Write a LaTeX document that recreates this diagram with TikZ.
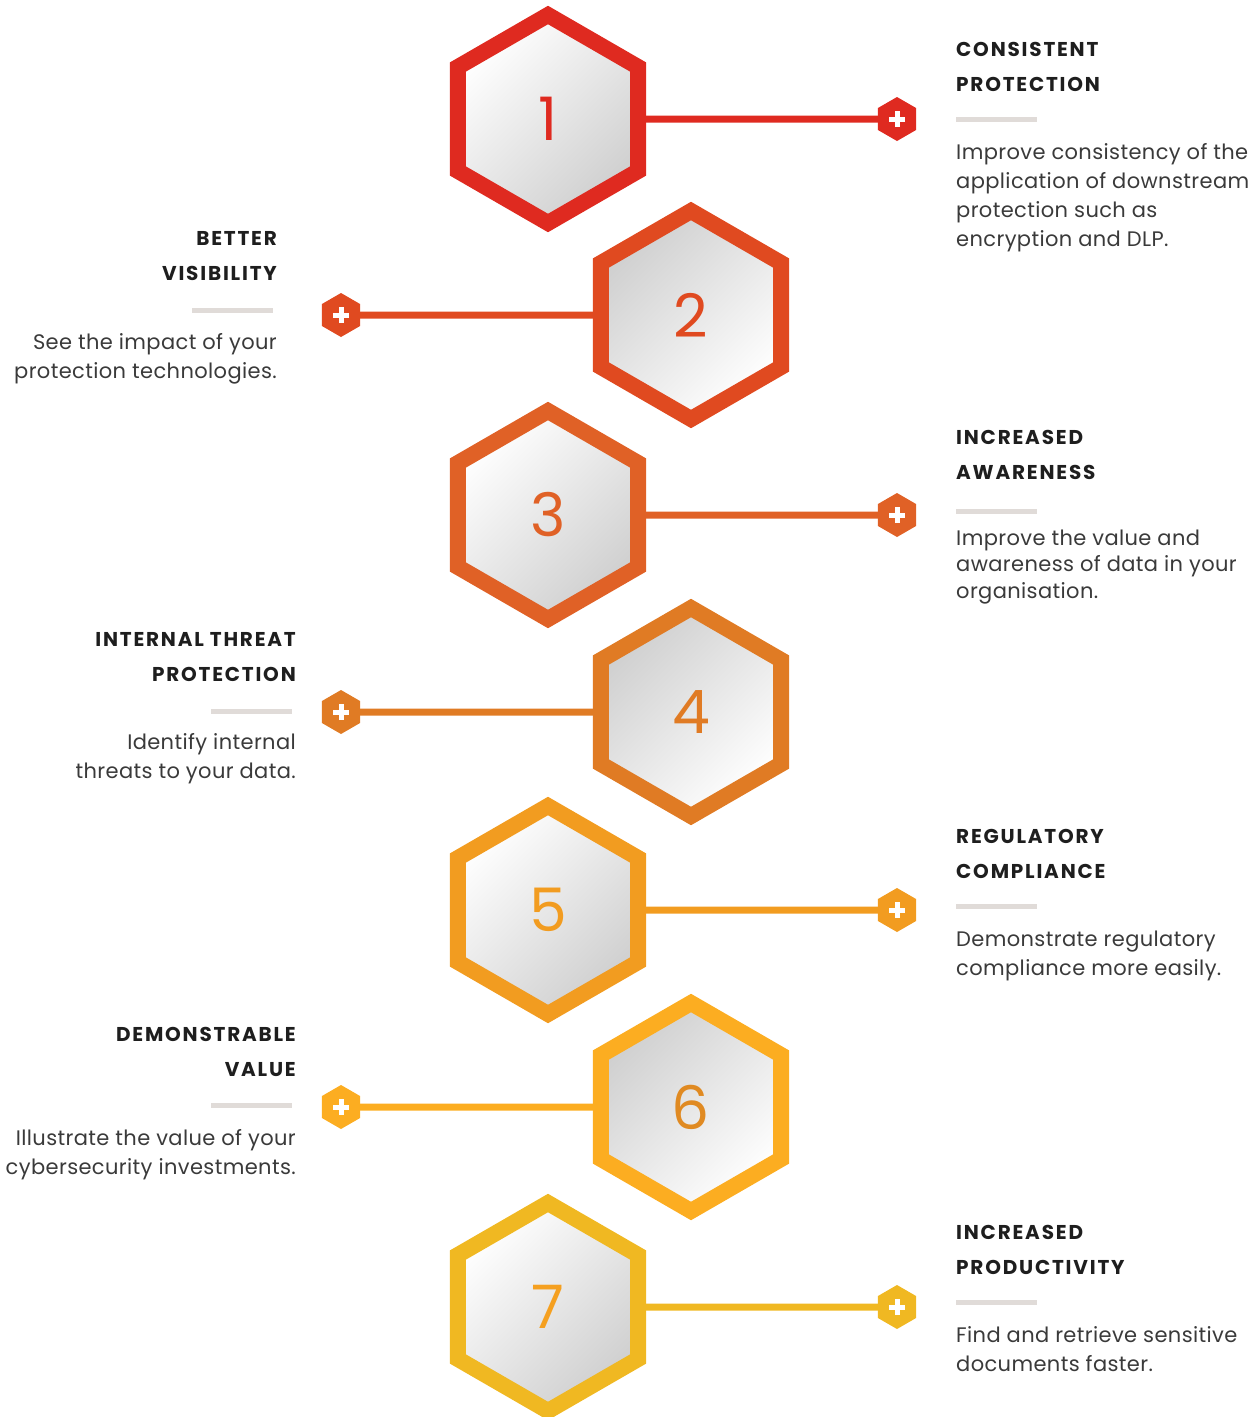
\documentclass[tikz,border=0pt]{standalone}
\usepackage{fontspec}
\setmainfont{Poppins}
\newfontfamily\headfont{Poppins}[LetterSpace=9]
\newfontfamily\copyfont{Poppins}[LetterSpace=1.8]
\usetikzlibrary{shapes,positioning}

\definecolor{hexone}{HTML}{DF2A20}
\definecolor{hextwo}{HTML}{E04A20}
\definecolor{hexthree}{HTML}{E06126}
\definecolor{hexfour}{HTML}{E07B24}
\definecolor{hexfive}{HTML}{F29C20}
\definecolor{hexsix}{HTML}{FCAD21}
\definecolor{hexseven}{HTML}{F0B822}
\definecolor{numsix}{HTML}{E08A22}
\definecolor{numseven}{HTML}{F5A020}
\definecolor{titlegray}{HTML}{1E1E1E}
\definecolor{bodygray}{HTML}{3A3A3A}
\definecolor{bargray}{HTML}{E0DBD8}

\begin{document}
\begin{tikzpicture}[x=1pt, y=1pt]
			%define block styles
			\tikzset{
				hexbox/.style={regular polygon, regular polygon sides=6, shape border rotate=30, minimum size=208pt, line width=16pt, inner sep=0pt, outer sep=0pt, font=\fontsize{60}{60}\selectfont},
				litehex/.style={hexbox, top color=white, bottom color=black!19, shading angle=45},
				darkhex/.style={hexbox, top color=black!19, bottom color=white, shading angle=45},
				plusbox/.style={regular polygon, regular polygon sides=6, shape border rotate=30, minimum size=44pt, inner sep=0pt, outer sep=0pt,
					path picture={
						\draw[white, line width=5pt] ([xshift=-8pt]path picture bounding box.center) -- ([xshift=8pt]path picture bounding box.center);
						\draw[white, line width=5pt] ([yshift=-8pt]path picture bounding box.center) -- ([yshift=8pt]path picture bounding box.center);
					}},
				bar/.style={fill=bargray, minimum width=81pt, minimum height=5pt, inner sep=0pt},
				titletext/.style={font=\headfont\fontsize{20}{35}\selectfont\bfseries, text=titlegray, inner sep=0pt},
				bodytext/.style={font=\copyfont\fontsize{21}{29}\selectfont, text=bodygray, inner sep=0pt},
				link/.style={line width=7pt},
			}
			\useasboundingbox (0,0) rectangle (1260,-1417);
			%define hexagons
			\node[litehex, draw=hexone, text=hexone](hex1) at (548,-119){1};
			\node[darkhex, draw=hextwo, text=hextwo](hex2) at (691,-315){2};
			\node[litehex, draw=hexthree, text=hexthree](hex3) at (548,-515){3};
			\node[darkhex, draw=hexfour, text=hexfour](hex4) at (691,-712){4};
			\node[litehex, draw=hexfive, text=hexfive](hex5) at (548,-910){5};
			\node[darkhex, draw=hexsix, text=numsix](hex6) at (691,-1107){6};
			\node[litehex, draw=hexseven, text=numseven](hex7) at (548,-1307){7};
			%define plus icons
			\node[plusbox, fill=hexone](plus1) at (897,-119){};
			\node[plusbox, fill=hextwo](plus2) at (341,-315){};
			\node[plusbox, fill=hexthree](plus3) at (897,-515){};
			\node[plusbox, fill=hexfour](plus4) at (341,-712){};
			\node[plusbox, fill=hexfive](plus5) at (897,-910){};
			\node[plusbox, fill=hexsix](plus6) at (341,-1107){};
			\node[plusbox, fill=hexseven](plus7) at (897,-1307){};
			%define bars
			\node[bar, anchor=west](bar1) at (956,-119){};
			\node[bar, anchor=east](bar2) at (273,-310){};
			\node[bar, anchor=west](bar3) at (956,-511){};
			\node[bar, anchor=east](bar4) at (292,-711){};
			\node[bar, anchor=west](bar5) at (956,-906){};
			\node[bar, anchor=east](bar6) at (292,-1105){};
			\node[bar, anchor=west](bar7) at (956,-1302){};
			%define titles
			\node[titletext, align=left, above=24.5pt of bar1.north west, anchor=south west](head1){CONSISTENT\\PROTECTION};
			\node[titletext, align=right, above=26pt of bar2.north east, anchor=south east, xshift=4pt](head2){BETTER\\VISIBILITY};
			\node[titletext, align=left, above=28pt of bar3.north west, anchor=south west](head3){INCREASED\\AWARENESS};
			\node[titletext, align=right, above=26pt of bar4.north east, anchor=south east, xshift=4pt](head4){INTERNAL THREAT\\PROTECTION};
			\node[titletext, align=left, above=24.5pt of bar5.north west, anchor=south west](head5){REGULATORY\\COMPLIANCE};
			\node[titletext, align=right, above=25.5pt of bar6.north east, anchor=south east, xshift=4pt](head6){DEMONSTRABLE\\VALUE};
			\node[titletext, align=left, above=24.5pt of bar7.north west, anchor=south west](head7){INCREASED\\PRODUCTIVITY};
			%define texts
			\node[bodytext, align=left, below=22pt of bar1.south west, anchor=north west](text1){Improve consistency of the\\application of downstream\\protection such as\\encryption and DLP.};
			\node[bodytext, align=right, below=21pt of bar2.south east, anchor=north east, xshift=4pt](text2){See the impact of your\\protection technologies.};
			\node[bodytext, font=\copyfont\fontsize{21}{26.5}\selectfont, align=left, below=16pt of bar3.south west, anchor=north west](text3){Improve the value and\\awareness of data in your\\organisation.};
			\node[bodytext, align=right, below=20pt of bar4.south east, anchor=north east, xshift=4pt](text4){Identify internal\\threats to your data.};
			\node[bodytext, align=left, below=22pt of bar5.south west, anchor=north west](text5){Demonstrate regulatory\\compliance more easily.};
			\node[bodytext, align=right, below=22pt of bar6.south east, anchor=north east, xshift=4pt](text6){Illustrate the value of your\\cybersecurity investments.};
			\node[bodytext, align=left, below=22pt of bar7.south west, anchor=north west](text7){Find and retrieve sensitive\\documents faster.};
			%define links
			\draw[link, hexone] (hex1) -- (plus1);
			\draw[link, hextwo] (hex2) -- (plus2);
			\draw[link, hexthree] (hex3) -- (plus3);
			\draw[link, hexfour] (hex4) -- (plus4);
			\draw[link, hexfive] (hex5) -- (plus5);
			\draw[link, hexsix] (hex6) -- (plus6);
			\draw[link, hexseven] (hex7) -- (plus7);
		\end{tikzpicture}
\end{document}
